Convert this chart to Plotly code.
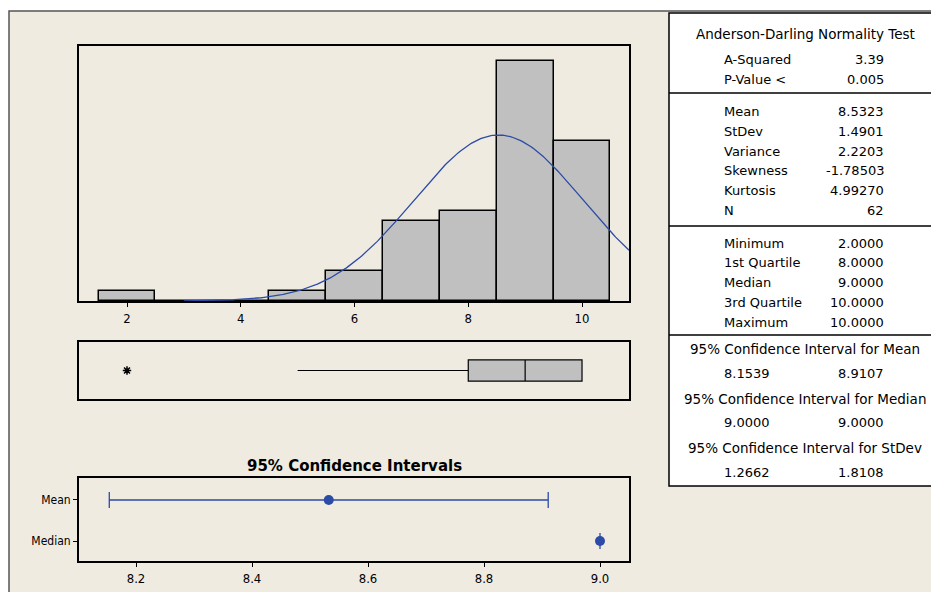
import math
import plotly.graph_objects as go

# ---------------- data ----------------
bin_centers = [2, 3, 4, 5, 6, 7, 8, 9, 10]
bin_counts = [1, 0, 0, 1, 3, 8, 9, 24, 16]

N = 62
MEAN = 8.5323
STDEV = 1.4901

box_q1 = 8.0
box_median = 9.0
box_q3 = 10.0
box_lower_whisker = 5.0
box_upper_whisker = 10.0
outliers = [2.0]

ci_labels = ["Mean", "Median"]
ci_centers = [8.5323, 9.0000]
ci_lower = [8.1539, 9.0000]
ci_upper = [8.9107, 9.0000]

hist_ticks = [2, 4, 6, 8, 10]
ci_ticks = [8.2, 8.4, 8.6, 8.8, 9.0]
ci_ticktext = ["8.2", "8.4", "8.6", "8.8", "9.0"]

table_title = "Anderson-Darling Normality Test"
ad_rows = [("A-Squared", "3.39"), ("P-Value <", "0.005")]
stat_rows = [("Mean", "8.5323"), ("StDev", "1.4901"), ("Variance", "2.2203"),
             ("Skewness", "-1.78503"), ("Kurtosis", "4.99270"), ("N", "62")]
quart_rows = [("Minimum", "2.0000"), ("1st Quartile", "8.0000"), ("Median", "9.0000"),
              ("3rd Quartile", "10.0000"), ("Maximum", "10.0000")]
ci_rows = [("95% Confidence Interval for Mean", "8.1539", "8.9107"),
           ("95% Confidence Interval for Median", "9.0000", "9.0000"),
           ("95% Confidence Interval for StDev", "1.2662", "1.8108")]

# ---------------- layout helpers ----------------
W, H = 931, 592
def px(x):
    return x / W
def py(y):
    return 1 - y / H

BEIGE = "#EFEBE1"
BLUE = "#2B4BA6"
GRAY = "#C0C0C0"
XTICKFONT = dict(family="DejaVu Sans Condensed, Liberation Sans Narrow, DejaVu Sans", size=13, color="black")
YTICKFONT = dict(family="DejaVu Sans Condensed, Liberation Sans Narrow, DejaVu Sans", size=12, color="black")
TABFONT = dict(family="DejaVu Sans, Verdana, sans-serif", size=13, color="black")
HEADFONT = dict(family="DejaVu Sans, Verdana, sans-serif", size=13.5, color="black")

x_hist_range = [1.156, 10.826]
x_dom = [px(79), px(629)]

fig = go.Figure()

# histogram
fig.add_trace(go.Bar(x=bin_centers, y=bin_counts, width=1.0,
                     marker=dict(color=GRAY, line=dict(color="black", width=1.5)),
                     xaxis="x", yaxis="y", showlegend=False, hoverinfo="skip"))

# fitted normal curve (from the stated mean / stdev)
curve_x = [3.0 + i * (x_hist_range[1] - 3.0) / 300 for i in range(301)]
curve_y = [N * 1.0 / (STDEV * math.sqrt(2 * math.pi)) * math.exp(-0.5 * ((v - MEAN) / STDEV) ** 2)
           for v in curve_x]
fig.add_trace(go.Scatter(x=curve_x, y=curve_y, mode="lines", line=dict(color=BLUE, width=1.3),
                         xaxis="x", yaxis="y", showlegend=False, hoverinfo="skip"))

# boxplot
fig.add_trace(go.Box(orientation="h", y=[0], q1=[box_q1], median=[box_median], q3=[box_q3],
                     lowerfence=[box_lower_whisker], upperfence=[box_upper_whisker],
                     fillcolor=GRAY, line=dict(color="black", width=1.2), whiskerwidth=0,
                     width=0.74, boxpoints=False, xaxis="x2", yaxis="y2", showlegend=False,
                     hoverinfo="skip"))
fig.add_trace(go.Scatter(x=outliers, y=[0] * len(outliers), mode="markers",
                         marker=dict(symbol="asterisk-open", size=7, color="black",
                                     line=dict(color="black", width=1.5)),
                         xaxis="x2", yaxis="y2", showlegend=False, hoverinfo="skip"))

# confidence intervals
ci_y = [1, 0]
fig.add_trace(go.Scatter(
    x=ci_centers, y=ci_y, mode="markers",
    marker=dict(symbol="circle", size=10, color=BLUE),
    error_x=dict(type="data", symmetric=False,
                 array=[u - c for u, c in zip(ci_upper, ci_centers)],
                 arrayminus=[c - l for l, c in zip(ci_lower, ci_centers)],
                 color=BLUE, thickness=1.3, width=8),
    xaxis="x3", yaxis="y3", showlegend=False, hoverinfo="skip"))

axis_common = dict(showline=True, linecolor="black", linewidth=2, mirror=True,
                   showgrid=False, zeroline=False)

fig.update_layout(
    width=W, height=H,
    margin=dict(l=0, r=0, t=0, b=0),
    paper_bgcolor="white", plot_bgcolor="white",
    bargap=0,
    xaxis=dict(domain=x_dom, range=x_hist_range, tickvals=hist_ticks, ticks="outside",
               ticklen=4, tickwidth=1.2, tickcolor="black", tickfont=XTICKFONT,
               anchor="y", **axis_common),
    yaxis=dict(domain=[py(301), py(46)], range=[0, 25.5], showticklabels=False,
               ticks="", anchor="x", **axis_common),
    xaxis2=dict(domain=x_dom, range=x_hist_range, showticklabels=False, ticks="",
                anchor="y2", **axis_common),
    yaxis2=dict(domain=[py(399), py(342)], range=[-1.0, 1.0], showticklabels=False,
                ticks="", anchor="x2", **axis_common),
    xaxis3=dict(domain=x_dom, range=[8.1017, 9.05], tickvals=ci_ticks, ticktext=ci_ticktext,
                ticks="outside", ticklen=4, tickwidth=1.2, tickcolor="black",
                tickfont=XTICKFONT, anchor="y3", **axis_common),
    yaxis3=dict(domain=[py(561), py(478)], range=[-0.485, 1.535], tickvals=ci_y,
                ticktext=ci_labels, ticks="outside", ticklen=4, tickwidth=1.2,
                tickcolor="black", tickfont=YTICKFONT, anchor="x3", **axis_common),
)

shapes = []
# beige panel
shapes.append(dict(type="rect", xref="paper", yref="paper", x0=px(9), x1=px(940), y0=py(600), y1=py(11),
                   fillcolor=BEIGE, line=dict(color="#555555", width=1.5), layer="below"))
# table box
shapes.append(dict(type="rect", xref="paper", yref="paper", x0=px(669), x1=px(945), y0=py(486), y1=py(13),
                   fillcolor="white", line=dict(color="black", width=1.5), layer="below"))
for yline in [93, 226, 335]:
    shapes.append(dict(type="line", xref="paper", yref="paper", x0=px(669), x1=px(945),
                       y0=py(yline), y1=py(yline), line=dict(color="black", width=1.5)))
fig.update_layout(shapes=shapes)

annotations = []
def text(x, y, s, anchor="left", font=TABFONT):
    annotations.append(dict(x=px(x), y=py(y), xref="paper", yref="paper", text=s, showarrow=False,
                            xanchor=anchor, yanchor="middle", font=font))

LABEL_X = 722
VALUE_X = 886
HEAD_X = 805
text(HEAD_X, 34, table_title, "center", HEADFONT)
y = 60
for lab, val in ad_rows:
    text(LABEL_X, y, lab)
    text(VALUE_X, y, val, "right")
    y += 20
y = 111
for lab, val in stat_rows:
    text(LABEL_X, y, lab)
    text(VALUE_X, y, val, "right")
    y += 20
y = 243
for lab, val in quart_rows:
    text(LABEL_X, y, lab)
    text(VALUE_X, y, val, "right")
    y += 19.8
y = 349
for head, lo, hi in ci_rows:
    text(HEAD_X, y, head, "center", HEADFONT)
    text(LABEL_X, y + 24, lo)
    text(VALUE_X, y + 24, hi, "right")
    y += 49.5

# CI panel title
text(354, 466, "<b>95% Confidence Intervals</b>", "center",
     font=dict(family="DejaVu Sans, Verdana, sans-serif", size=15, color="black"))

fig.update_layout(annotations=annotations)

fig.write_html("out.html", config={"displayModeBar": False},
               post_script="document.body.style.margin='0';")
